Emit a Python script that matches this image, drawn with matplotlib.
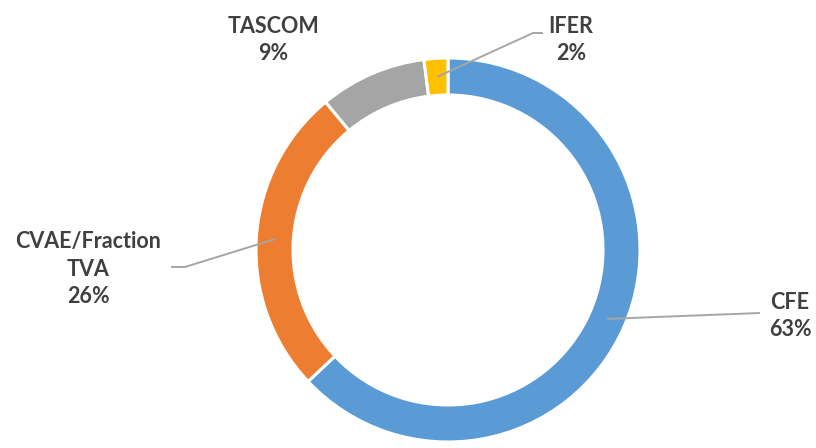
import numpy as np
import matplotlib
matplotlib.use("Agg")
import matplotlib.pyplot as plt

labels = ["CFE", "CVAE/Fraction\nTVA", "TASCOM", "IFER"]
shares = [63, 26, 9, 2]
colors = ["#5b9bd5", "#ed7d31", "#a5a5a5", "#ffc000"]

# label text centre (pixels from top-left) and the elbow of each leader line
label_pos = [(790, 316), (88, 269), (273, 40), (571, 40)]
elbows = [[(760, 313)], [(185, 267), (171, 267)], [], [(533, 33), (543, 33)]]

W, H = 816, 448
fig = plt.figure(figsize=(W / 100, H / 100), dpi=100)
ax = fig.add_axes([0, 0, 1, 1])

cx, cy, r = 448, H - 250, 192
width = 37
ax.pie(shares, colors=colors, startangle=90, counterclock=False,
       center=(cx, cy), radius=r,
       wedgeprops=dict(width=width, edgecolor="white", linewidth=2.2))
ax.set_xlim(0, W)
ax.set_ylim(0, H)
ax.set_aspect("equal")
ax.axis("off")

cum = np.cumsum([0] + shares)
total = sum(shares)
rm = r - width / 2
for i, lab in enumerate(labels):
    # leader line starts at the middle of the ring segment
    mid = (cum[i] + cum[i + 1]) / 2 / total
    ang = np.deg2rad(90 - 360 * mid)
    sx, sy = cx + rm * np.cos(ang), cy + rm * np.sin(ang)
    pts = [(sx, sy)] + [(x, H - y) for x, y in elbows[i]]
    if len(pts) > 1:
        xs, ys = zip(*pts)
        ax.plot(xs, ys, color="#a6a6a6", lw=1.4, solid_capstyle="butt")
    lx, ly = label_pos[i]
    ax.text(lx, H - ly, f"{lab}\n{shares[i]}%", ha="center", va="center",
            fontsize=15.5, fontweight="bold", color="#404040",
            family=["Lato", "DejaVu Sans"], linespacing=1.4)

fig.savefig("out.png", dpi=100, facecolor="white")
